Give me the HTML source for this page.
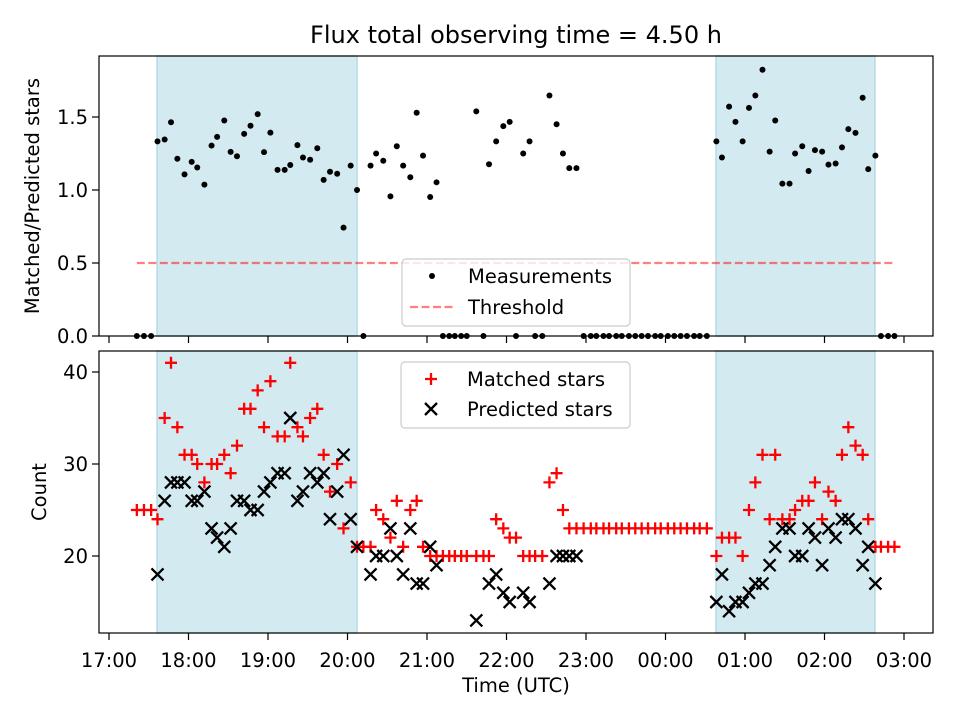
<!DOCTYPE html>
<html><head><meta charset="utf-8"><style>
body{margin:0;background:#fff;}
svg{display:block;font-family:"DejaVu Sans","Liberation Sans",sans-serif;}
</style></head><body>
<svg id="chart" width="960" height="720" viewBox="0 0 960 720" xmlns="http://www.w3.org/2000/svg">
<rect width="960" height="720" fill="#fff"/>
<text x="516" y="43" font-size="24" text-anchor="middle">Flux total observing time = 4.50 h</text>
<g id="topPanel"></g><g id="botPanel"></g>
</svg>
<script>
// hours since 17:00 UTC
const times=[0.35,0.44,0.53,
0.61,0.70,0.78,0.86,0.95,1.04,1.11,1.20,1.29,1.36,1.45,1.53,1.61,1.70,1.78,1.87,1.95,2.03,2.12,2.21,2.28,2.37,2.44,2.53,2.62,2.70,2.78,2.87,2.95,3.04,3.12,3.20,3.29,3.36,3.45,3.54,3.62,3.70,3.79,3.87,3.95,4.04,4.12,
4.20,4.28,4.35,4.43,4.50,
4.62,4.71,4.78,4.87,4.96,5.04,5.12,5.21,5.29,5.36,5.45,5.54,5.63,5.71,5.79,5.88,
5.97,6.06,6.13,6.22,6.29,6.38,6.45,6.54,6.62,6.70,6.78,6.87,6.94,7.03,7.11,7.19,7.27,7.36,7.43,7.52,
7.64,7.71,7.80,7.88,7.97,8.05,8.13,8.22,8.31,8.38,8.47,8.56,8.63,8.72,8.80,8.88,8.97,9.05,9.14,9.22,9.30,9.39,9.48,9.55,9.64,
9.71,9.80,9.88];
const matched=[25,25,25,
24,35,41,34,31,31,30,28,30,30,31,29,32,36,36,38,34,39,33,33,41,34,33,35,36,31,27,30,23,28,21,21,
21,25,24,22,26,21,25,26,21,20,20,
20,20,20,20,20,
20,20,20,24,23,22,22,20,20,20,20,28,29,25,23,23,
23,23,23,23,23,23,23,23,23,23,23,23,23,23,23,23,23,23,23,23,
20,22,22,22,20,25,28,31,24,31,24,24,25,26,26,28,24,27,26,31,34,32,31,24,21,
21,21,21];
const predicted=[0,0,0,
18,26,28,28,28,26,26,27,23,22,21,23,26,26,25,25,27,28,29,29,35,26,27,29,28,29,24,27,31,24,21,0,
18,20,20,23,20,18,23,17,17,21,19,
0,0,0,0,0,
13,0,17,18,16,15,0,16,15,0,0,17,20,20,20,20,
0,0,0,0,0,0,0,0,0,0,0,0,0,0,0,0,0,0,0,0,
15,18,14,15,15,16,17,17,19,21,23,23,20,20,23,22,19,23,22,24,24,23,19,21,17,
0,0,0];
const spanStart=[0.604,7.635];
const spanEnd=[3.12,9.635];
const threshold=0.5;
const xTicks=[0,1,2,3,4,5,6,7,8,9,10];
const xTickLabels=["17:00","18:00","19:00","20:00","21:00","22:00","23:00","00:00","01:00","02:00","03:00"];
const topTicks=[0,0.5,1,1.5];
const botTicks=[20,30,40];

const NS="http://www.w3.org/2000/svg";
const L=99,R=933,FS=19.5;
const X=h=>109+h*79.5;
const YT=v=>336-v*146;
const YB=v=>556-(v-20)*9.2;
function mk(p,tag,a){const e=document.createElementNS(NS,tag);for(const k in a)e.setAttribute(k,a[k]);p.appendChild(e);return e;}
const topG=document.getElementById('topPanel'),botG=document.getElementById('botPanel');





function panel(g,y0,y1,name){
  const cp=mk(g,'clipPath',{id:'c'+name});mk(cp,'rect',{x:L,y:y0,width:R-L,height:y1-y0});
  spanStart.forEach((s,i)=>{
    const r=mk(g,'rect',{x:X(s),y:y0,width:X(spanEnd[i])-X(s),height:y1-y0,fill:'#d4eaf1',stroke:'#b5dbe7','stroke-width':1.5});
    
    
  });
}
function frame(g,y0,y1,labels){
  mk(g,'rect',{x:L,y:y0,width:R-L,height:y1-y0,fill:'none',stroke:'#000','stroke-width':1.2});
  xTicks.forEach((h,i)=>{
    mk(g,'line',{x1:X(h),x2:X(h),y1:y1,y2:y1+7,stroke:'#000','stroke-width':1.2});
    if(labels){const t=mk(g,'text',{x:X(h),y:y1+34,'font-size':FS,'text-anchor':'middle'});t.textContent=xTickLabels[i];
      
      }
  });
}
// top panel
panel(topG,56,336,'t');
const ratio=matched.map((m,i)=>predicted[i]>0?m/predicted[i]:0);
const th=mk(topG,'line',{x1:X(times[0]),x2:X(times[times.length-1]),y1:YT(threshold),y2:YT(threshold),stroke:'#ff0000','stroke-opacity':0.5,'stroke-width':2.2,'stroke-dasharray':'8,3.5'});


ratio.forEach((v,i)=>{
  const c=mk(topG,'circle',{cx:X(times[i]),cy:YT(v),r:3,fill:'#000'});
  
  
});
frame(topG,56,336,false);
topTicks.forEach(v=>{
  mk(topG,'line',{x1:L-7,x2:L,y1:YT(v),y2:YT(v),stroke:'#000','stroke-width':1.2});
  const t=mk(topG,'text',{x:L-11,y:YT(v)+7,'font-size':FS,'text-anchor':'end'});t.textContent=v.toFixed(1);
  
  
});
let yl=mk(topG,'text',{x:0,y:0,'font-size':FS,'text-anchor':'middle',transform:'translate(39,196) rotate(-90)'});yl.textContent='Matched/Predicted stars';


const lg=mk(topG,'g',{});


mk(lg,'rect',{x:402,y:259,width:228,height:67,rx:4,fill:'#fff','fill-opacity':0.8,stroke:'#cccccc','stroke-width':1.2});
mk(lg,'circle',{cx:432,cy:276,r:3,fill:'#000'});
let t1=mk(lg,'text',{x:468,y:283,'font-size':FS});t1.textContent='Measurements';
mk(lg,'line',{x1:410,x2:455,y1:307,y2:307,stroke:'#ff0000','stroke-opacity':0.5,'stroke-width':2.2,'stroke-dasharray':'8,3.5'});
let t2=mk(lg,'text',{x:468,y:314,'font-size':FS});t2.textContent='Threshold';

// bottom panel
panel(botG,351,633,'b');
const pg=mk(botG,'g',{'clip-path':'url(#cb)'});
matched.forEach((v,i)=>{
  const x=X(times[i]),y=YB(v);
  const p=mk(pg,'path',{d:`M${x-6},${y}H${x+6}M${x},${y-6}V${y+6}`,stroke:'#ff0000','stroke-width':2.3});
  
  
});
predicted.forEach((v,i)=>{
  if(v<=0)return;
  const x=X(times[i]),y=YB(v);
  const p=mk(pg,'path',{d:`M${x-6},${y-6}L${x+6},${y+6}M${x-6},${y+6}L${x+6},${y-6}`,stroke:'#000','stroke-width':2.3});
  
  
});
frame(botG,351,633,true);
botTicks.forEach(v=>{
  mk(botG,'line',{x1:L-7,x2:L,y1:YB(v),y2:YB(v),stroke:'#000','stroke-width':1.2});
  const t=mk(botG,'text',{x:L-11,y:YB(v)+7,'font-size':FS,'text-anchor':'end'});t.textContent=v;
  
  
});
yl=mk(botG,'text',{x:0,y:0,'font-size':FS,'text-anchor':'middle',transform:'translate(46,492) rotate(-90)'});yl.textContent='Count';


let xl=mk(botG,'text',{x:516,y:692,'font-size':FS,'text-anchor':'middle'});xl.textContent='Time (UTC)';


const lg2=mk(botG,'g',{});


mk(lg2,'rect',{x:401,y:362,width:229,height:66,rx:4,fill:'#fff','fill-opacity':0.8,stroke:'#cccccc','stroke-width':1.2});
mk(lg2,'path',{d:'M425,379H437M431,373V385',stroke:'#ff0000','stroke-width':2.3});
let t3=mk(lg2,'text',{x:467,y:386,'font-size':FS});t3.textContent='Matched stars';
mk(lg2,'path',{d:'M425,403L437,415M425,415L437,403',stroke:'#000','stroke-width':2.3});
let t4=mk(lg2,'text',{x:467,y:416,'font-size':FS});t4.textContent='Predicted stars';
</script>
</body></html>
